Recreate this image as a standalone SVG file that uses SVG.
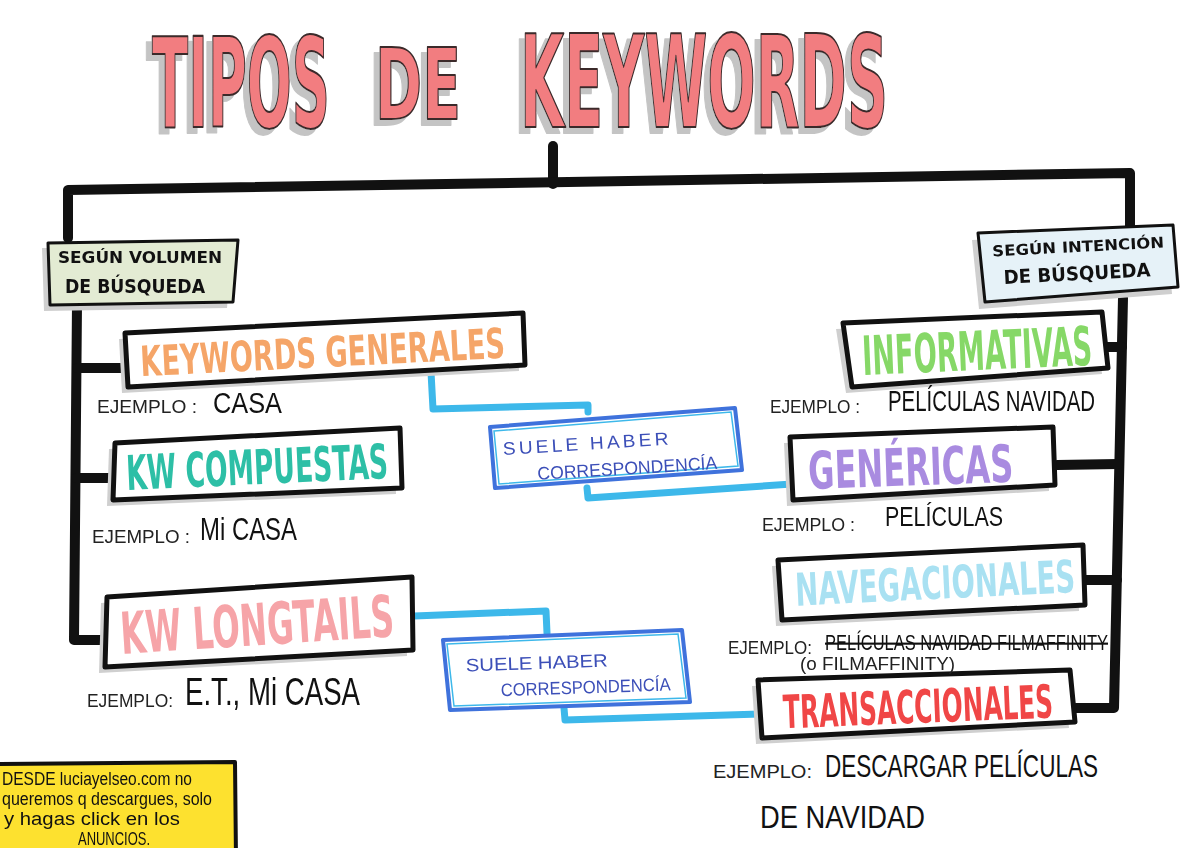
<svg xmlns="http://www.w3.org/2000/svg" width="1200" height="848" viewBox="0 0 1200 848">
<defs>
<filter id="tsh" x="-5%" y="-10%" width="110%" height="125%">
<feOffset in="SourceAlpha" dx="-6" dy="6" result="off"/>
<feFlood flood-color="#c4c4c4"/>
<feComposite in2="off" operator="in" result="sh"/>
<feMerge><feMergeNode in="sh"/><feMergeNode in="SourceGraphic"/></feMerge>
</filter>
<style>
.title{font-family:"DejaVu Sans","Liberation Sans",sans-serif;font-weight:bold;fill:#f27d80;stroke:#3a2a2a;stroke-width:1.6;stroke-linejoin:round;vector-effect:non-scaling-stroke}
.box{fill:#ffffff;stroke:#111;stroke-width:5;stroke-linejoin:round}
.shadow{fill:#cfcfcf}
.kw{font-family:"DejaVu Sans","Liberation Sans",sans-serif;font-weight:bold}
.lbl{font-family:"DejaVu Sans","Liberation Sans",sans-serif;font-weight:bold;fill:#111}
.exs{font-family:"Liberation Sans","DejaVu Sans",sans-serif;fill:#222;font-size:18px}
.exl{font-family:"Liberation Sans","DejaVu Sans",sans-serif;fill:#111}
.bl{fill:none;stroke:#111;stroke-width:10;stroke-linecap:round;stroke-linejoin:round}
.cy{fill:none;stroke:#3db8ea;stroke-width:7;stroke-linecap:round;stroke-linejoin:round}
.bbox{fill:#ffffff;stroke:#3f72dc;stroke-width:4;stroke-linejoin:round}
.btxt{font-family:"Liberation Sans","DejaVu Sans",sans-serif;fill:#3c4fb8;font-size:18px}
.note{font-family:"Liberation Sans","DejaVu Sans",sans-serif;fill:#111;font-size:18px}
</style>
</defs>
<rect width="1200" height="848" fill="#ffffff"/>

<g id="title" filter="url(#tsh)">
<text class="title" transform="translate(152 127) scale(1 2.36)" font-size="53" textLength="178" lengthAdjust="spacingAndGlyphs">TIPOS</text>
<text class="title" transform="translate(375 119) scale(1 1.72)" font-size="57" textLength="86" lengthAdjust="spacingAndGlyphs">DE</text>
<text class="title" transform="translate(520 127) scale(1 2.17)" font-size="59" textLength="368" lengthAdjust="spacingAndGlyphs">KEYWORDS</text>
</g>

<g id="connectors">
<path class="bl" d="M553,146 L553,184"/>
<path class="bl" d="M68,238 L68,190 L1130,173 L1130,226"/>
<path class="bl" d="M77,304 L74,640 L104,640"/>
<path class="bl" d="M77,368 L122,368"/>
<path class="bl" d="M76,478 L112,478"/>
<path class="bl" d="M1123,298 L1114,708 L1076,708"/>
<path class="bl" d="M1106,347 L1122,347"/>
<path class="bl" d="M1057,465 L1118,464"/>
<path class="bl" d="M1086,580 L1117,580"/>
<path class="cy" d="M431,372 L433,409 L588,405 L588,412"/>
<path class="cy" d="M587,488 L588,498 L792,484"/>
<path class="cy" d="M414,616 L546,611 L547,633"/>
<path class="cy" d="M564,708 L565,720 L760,714"/>
</g>

<g id="lbl-volumen">
<polygon class="shadow" points="42,248 232,245 227,308 44,311"/>
<polygon points="48,243 238,240 233,302 50,305" fill="#e3ebd3" stroke="#111" stroke-width="3" stroke-linejoin="round"/>
<text class="lbl" x="58" y="263" font-size="16" textLength="164" lengthAdjust="spacingAndGlyphs">SEGÚN VOLUMEN</text>
<text class="lbl" x="65" y="293" font-size="19" textLength="140" lengthAdjust="spacingAndGlyphs">DE BÚSQUEDA</text>
</g>

<g id="lbl-intencion">
<polygon class="shadow" points="972,240 1167,232 1172,294 979,309"/>
<polygon points="978,233 1173,225 1178,287 985,302" fill="#e6f2f8" stroke="#111" stroke-width="3" stroke-linejoin="round"/>
<g transform="rotate(-3 1078 262)">
<text class="lbl" x="993" y="252" font-size="15" textLength="172" lengthAdjust="spacingAndGlyphs">SEGÚN INTENCIÓN</text>
<text class="lbl" x="1003" y="280" font-size="19" textLength="147" lengthAdjust="spacingAndGlyphs">DE BÚSQUEDA</text>
</g>
</g>

<g id="kw-generales">
<polygon class="shadow" points="119,339 517,319 519,371 122,393"/>
<polygon class="box" points="125,333 523,313 525,365 128,387"/>
<g transform="rotate(-2.9 325 350)">
<text class="kw" transform="translate(140 367) scale(1 1.54)" font-size="27.2" fill="#f5a568" textLength="365" lengthAdjust="spacingAndGlyphs">KEYWORDS GENERALES</text>
</g>
<text class="exs" x="97" y="413" textLength="100" lengthAdjust="spacingAndGlyphs">EJEMPLO :</text>
<text class="exl" transform="translate(213 413) scale(1 1.19)" font-size="25.3" textLength="69" lengthAdjust="spacingAndGlyphs">CASA</text>
</g>

<g id="kw-compuestas">
<polygon class="shadow" points="109,449 394,434 396,494 107,506"/>
<polygon class="box" points="115,443 400,428 402,488 113,500"/>
<g transform="rotate(-2.6 258 465)">
<text class="kw" transform="translate(126 484) scale(1 1.82)" font-size="26.4" fill="#2dbfa6" textLength="262" lengthAdjust="spacingAndGlyphs">KW COMPUESTAS</text>
</g>
<text class="exs" x="92" y="543" textLength="98" lengthAdjust="spacingAndGlyphs">EJEMPLO :</text>
<text class="exl" transform="translate(200 540) scale(1 1.34)" font-size="23.9" textLength="97" lengthAdjust="spacingAndGlyphs">Mi CASA</text>
</g>

<g id="kw-longtails">
<polygon class="shadow" points="101,603 406,583 407,656 99,673"/>
<polygon class="box" points="107,597 412,577 413,650 105,667"/>
<g transform="rotate(-3.7 259 623)">
<text class="kw" transform="translate(120 645) scale(1 1.81)" font-size="32" fill="#f6a4a8" textLength="274" lengthAdjust="spacingAndGlyphs">KW LONGTAILS</text>
</g>
<text class="exs" x="87" y="707" textLength="86" lengthAdjust="spacingAndGlyphs">EJEMPLO:</text>
<text class="exl" transform="translate(185 705) scale(1 1.4)" font-size="27.1" textLength="175" lengthAdjust="spacingAndGlyphs">E.T., Mi CASA</text>
</g>

<g id="corr-1">
<polygon class="bbox" points="490,427 735,408 742,470 495,488"/>
<polygon points="494,431 731,412 738,466 499,484" fill="none" stroke="#3db8ea" stroke-width="1.5"/>
<g transform="rotate(-3.5 616 448)">
<text class="btxt" x="503" y="448" textLength="169" lengthAdjust="spacingAndGlyphs" letter-spacing="3">SUELE HABER</text>
<text class="btxt" x="536" y="475" textLength="180" lengthAdjust="spacingAndGlyphs">CORRESPONDENCÍA</text>
</g>
</g>

<g id="corr-2">
<polygon class="bbox" points="443,640 682,630 690,702 450,710"/>
<polygon points="447,644 678,634 686,698 454,706" fill="none" stroke="#3db8ea" stroke-width="1.5"/>
<g transform="rotate(-2 566 670)">
<text class="btxt" x="466" y="668" textLength="142" lengthAdjust="spacingAndGlyphs">SUELE HABER</text>
<text class="btxt" x="500" y="694" textLength="170" lengthAdjust="spacingAndGlyphs">CORRESPONDENCÍA</text>
</g>
</g>

<g id="informativas">
<polygon class="shadow" points="836,329 1096,318 1102,374 846,393"/>
<polygon class="box" points="843,323 1102,312 1108,368 852,387"/>
<g transform="rotate(-2.5 975 350)">
<text class="kw" transform="translate(862 370) scale(1 2.02)" font-size="26.7" fill="#86d867" textLength="230" lengthAdjust="spacingAndGlyphs">INFORMATIVAS</text>
</g>
<text class="exs" x="770" y="413" textLength="90" lengthAdjust="spacingAndGlyphs">EJEMPLO :</text>
<text class="exl" transform="translate(888 411) scale(1 1.48)" font-size="20.2" textLength="207" lengthAdjust="spacingAndGlyphs">PELÍCULAS NAVIDAD</text>
</g>

<g id="genericas">
<polygon class="shadow" points="784,443 1047,433 1049,491 787,506"/>
<polygon class="box" points="790,437 1053,427 1055,485 793,500"/>
<g transform="rotate(-2 922 463)">
<text class="kw" transform="translate(808 485) scale(1 1.62)" font-size="32" fill="#a98be0" textLength="205" lengthAdjust="spacingAndGlyphs">GENÉRICAS</text>
</g>
<text class="exs" x="762" y="531" textLength="93" lengthAdjust="spacingAndGlyphs">EJEMPLO :</text>
<text class="exl" transform="translate(885 526) scale(1 1.31)" font-size="21.4" textLength="118" lengthAdjust="spacingAndGlyphs">PELÍCULAS</text>
</g>

<g id="transaccionales">
<polygon class="shadow" points="752,686 1064,676 1069,728 756,744"/>
<polygon class="box" points="758,680 1070,670 1075,722 762,738"/>
<g transform="rotate(-2.3 916 705)">
<text class="kw" transform="translate(783 723) scale(1 1.94)" font-size="23.7" fill="#f04646" textLength="270" lengthAdjust="spacingAndGlyphs">TRANSACCIONALES</text>
</g>
<text class="exs" x="713" y="778" font-size="20" textLength="99" lengthAdjust="spacingAndGlyphs">EJEMPLO:</text>
<text class="exl" transform="translate(825 777) scale(1 1.42)" font-size="22.5" textLength="273" lengthAdjust="spacingAndGlyphs">DESCARGAR PELÍCULAS</text>
<text class="exl" transform="translate(760 828) scale(1 1.19)" font-size="27" textLength="165" lengthAdjust="spacingAndGlyphs">DE NAVIDAD</text>
</g>

<g id="navegacionales">
<polygon class="shadow" points="772,566 1077,551 1079,611 776,626"/>
<polygon class="box" points="778,560 1083,545 1085,605 782,620"/>
<g transform="rotate(-2.8 932 582)">
<text class="kw" transform="translate(795 599) scale(1 1.65)" font-size="27.3" fill="#a9e1f2" textLength="280" lengthAdjust="spacingAndGlyphs">NAVEGACIONALES</text>
</g>
<text class="exs" x="728" y="654" textLength="84" lengthAdjust="spacingAndGlyphs">EJEMPLO:</text>
<text class="exl" transform="translate(825 650) scale(1 1.3)" font-size="16.4" textLength="283" lengthAdjust="spacingAndGlyphs" text-decoration="line-through">PELÍCULAS NAVIDAD FILMAFFINITY</text>
<text class="exs" x="800" y="670" font-size="16" textLength="155" lengthAdjust="spacingAndGlyphs">(o FILMAFFINITY)</text>
</g>

<g id="note">
<polygon points="-10,764 235,762 236,860 -10,860" fill="#fde12f" stroke="#111" stroke-width="4" stroke-linejoin="round"/>
<text class="note" x="2" y="785" textLength="190" lengthAdjust="spacingAndGlyphs">DESDE luciayelseo.com no</text>
<text class="note" x="2" y="805" textLength="210" lengthAdjust="spacingAndGlyphs">queremos q descargues, solo</text>
<text class="note" x="4" y="825" textLength="176" lengthAdjust="spacingAndGlyphs">y hagas click en los</text>
<text class="note" x="78" y="845" font-size="16" textLength="72" lengthAdjust="spacingAndGlyphs">ANUNCIOS.</text>
</g>
</svg>
